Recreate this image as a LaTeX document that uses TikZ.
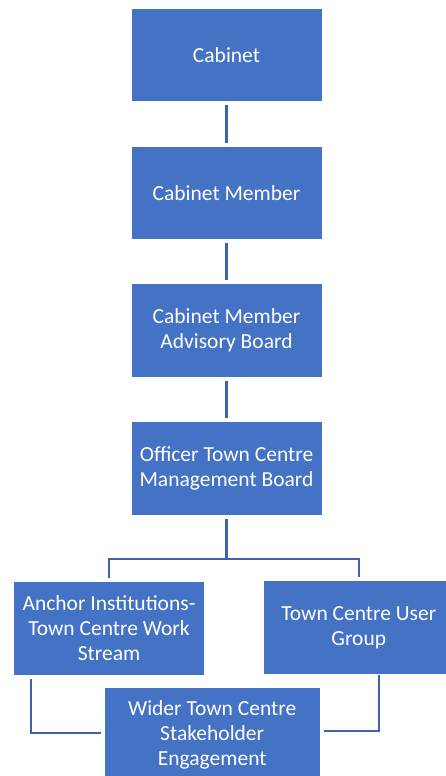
\documentclass[tikz,border=0pt]{standalone}
\usepackage{fontspec}
\setmainfont{Carlito}
\definecolor{boxblue}{RGB}{68,114,196}
\definecolor{lineblue}{RGB}{62,98,172}
\begin{document}
\begin{tikzpicture}[x=1bp,y=-1bp,
  box/.style={rectangle, fill=boxblue, draw=white, line width=0.8bp, text=white,
    align=center, inner sep=0pt, minimum width=191bp, minimum height=93.6bp,
    font=\fontsize{21.5bp}{25bp}\selectfont},
  conn/.style={draw=lineblue, line width=2.4bp}]
\clip (0,0) rectangle (446,776);
\fill[white] (0,0) rectangle (446,776);
\node[box] (cab) at (226.5,55) {Cabinet};
\node[box] (mem) at (226.5,193) {Cabinet Member};
\node[box] (adv) at (226.5,330.5) {Cabinet Member\\Advisory Board};
\node[box] (off) at (226.5,468.5) {Officer Town Centre\\Management Board};
\node[box] (anc) at (109,628.5) {Anchor Institutions-\\Town Centre Work\\Stream};
\node[box] (usr) at (358.8,627.5) {Town Centre User\\Group};
\node[box, minimum width=215.7bp] (wid) at (212.2,734.5) {Wider Town Centre\\Stakeholder\\Engagement};
\coordinate (j) at (226.5,559);
\draw[conn, shorten <=3bp, shorten >=3bp] (cab.south) -- (mem.north);
\draw[conn, shorten <=3bp, shorten >=3bp] (mem.south) -- (adv.north);
\draw[conn, shorten <=3bp, shorten >=3bp] (adv.south) -- (off.north);
\draw[conn, shorten <=3bp] (off.south) -- (j);
\draw[conn, shorten <=3.5bp, shorten >=3.5bp] (anc.north) |- (j) -| (usr.north);
\draw[conn] ([xshift=17.7bp,yshift=-3bp]anc.south west) |- ([xshift=-2.6bp,yshift=1.5bp]wid.west);
\draw[conn] ([xshift=116bp,yshift=-0.5bp]usr.south west) |- ([xshift=4bp,yshift=3.5bp]wid.east);
\end{tikzpicture}
\end{document}
